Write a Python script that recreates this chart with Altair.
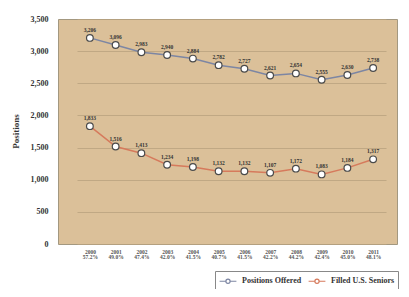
import altair as alt
import pandas as pd

years = ["2000", "2001", "2002", "2003", "2004", "2005", "2006", "2007", "2008", "2009", "2010", "2011"]
fill_rates = ["57.2%", "49.0%", "47.4%", "42.0%", "41.5%", "40.7%", "41.5%", "42.2%", "44.2%", "42.4%", "45.0%", "48.1%"]
offered = [3206, 3096, 2983, 2940, 2884, 2782, 2727, 2621, 2654, 2555, 2630, 2738]
filled = [1833, 1516, 1413, 1234, 1198, 1132, 1132, 1107, 1172, 1083, 1184, 1317]
series_names = ["Positions Offered", "Filled U.S. Seniors"]
series_colors = ["#7D86A3", "#D67A5C"]
y_ticks = [0, 500, 1000, 1500, 2000, 2500, 3000, 3500]

cats = [y + "|" + p for y, p in zip(years, fill_rates)]
rows = []
for i, c in enumerate(cats):
    rows.append({"cat": c, "series": series_names[0], "value": offered[i], "label": f"{offered[i]:,}"})
    rows.append({"cat": c, "series": series_names[1], "value": filled[i], "label": f"{filled[i]:,}"})
df = pd.DataFrame(rows)

serif = "Liberation Serif"

x = alt.X(
    "cat:N", sort=cats, title=None,
    scale=alt.Scale(range=[19, 328]),
    axis=alt.Axis(labelExpr="split(datum.value, '|')", labelAngle=0, ticks=False, domain=False,
                  grid=False, labelFont=serif, labelFontWeight="bold", labelFontSize=5.5,
                  labelColor="#555", labelLineHeight=5, labelPadding=5),
)
y = alt.Y(
    "value:Q", title="Positions",
    scale=alt.Scale(domain=[0, 3500], nice=False),
    axis=alt.Axis(values=y_ticks, labelExpr="format(datum.value, ',.0f')", ticks=False, domain=False,
                  gridColor="#B9A27F", gridWidth=0.8, labelFont=serif, labelFontWeight="bold",
                  labelFontSize=8, labelColor="#333", labelPadding=10, titleFont=serif,
                  titleFontWeight="bold", titleFontSize=9, titleColor="#333", titleX=-43,
                  titleY=112, titleAngle=270, titleAlign="center", titleBaseline="middle"),
)

color = alt.Color(
    "series:N",
    scale=alt.Scale(domain=series_names, range=series_colors),
    legend=alt.Legend(
        title=None, orient="none", legendX=157, legendY=252, direction="horizontal",
        fillColor="white", strokeColor="#888", padding=3, columnPadding=4,
        symbolType="M-1.4,0H-0.35M0.35,0H1.4M0.35,0A0.35,0.35,0,1,1,-0.35,0A0.35,0.35,0,1,1,0.35,0Z",
        symbolSize=144, symbolStrokeWidth=1.2, symbolFillColor="white", symbolOffset=3,
        labelOffset=7, labelFont=serif, labelFontWeight="bold", labelFontSize=8, labelColor="#333",
    ),
    sort=series_names,
)

base = alt.Chart(df)
lines = base.mark_line(strokeWidth=1.5).encode(x=x, y=y, color=color, detail="series:N")
points = base.mark_point(filled=True, fill="white", stroke="#4a4a4a", strokeWidth=1.2,
                         size=45, opacity=1).encode(x=x, y=y, detail="series:N")
texts = base.mark_text(dy=-8, font=serif, fontWeight="bold", fontSize=5.5,
                       color="#333").encode(x=x, y=y, text="label:N")

chart = (
    alt.layer(lines, points, texts)
    .properties(width=339, height=225, autosize="none",
                padding={"left": 50, "top": 11, "right": 4, "bottom": 45},
                background="white")
    .configure_view(fill="#DBC099", stroke="#A39880", strokeWidth=1)
)

chart.save("out.html", embed_options={"renderer": "svg", "actions": False})
